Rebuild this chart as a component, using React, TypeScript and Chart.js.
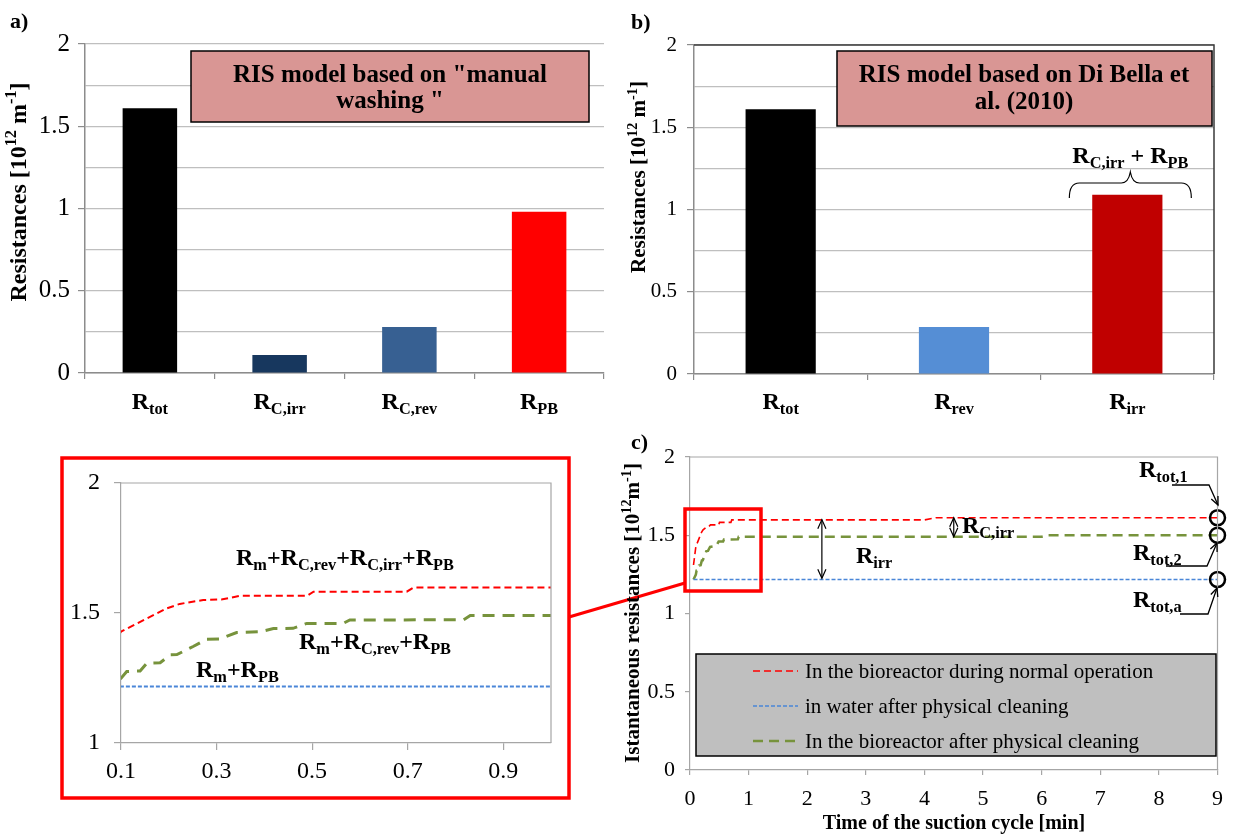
import React, { useEffect, useRef } from "react";
import { Chart, registerables } from "chart.js";
Chart.register(...registerables);

const W = 1234;
const H = 834;
const FONT = '"Liberation Serif", "Times New Roman", "DejaVu Serif", serif';
const AXIS = "#8C8C8C";
const GRID = "#BFBFBF";

// ---------- Panel a ----------
const catsA = ["R_{tot}", "R_{C,irr}", "R_{C,rev}", "R_{PB}"];
const valsA = [1.61, 0.11, 0.28, 0.98];
const colorsA = ["#000000", "#17375E", "#376092", "#FF0000"];
const boxTextA = ['RIS model based on "manual', 'washing "'];

// ---------- Panel b ----------
const catsB = ["R_{tot}", "R_{rev}", "R_{irr}"];
const valsB = [1.61, 0.285, 1.09];
const colorsB = ["#000000", "#558ED5", "#C00000"];
const boxTextB = ["RIS model based on Di Bella et", "al. (2010)"];
const braceLabelB = "R_{C,irr} + R_{PB}";
const titleAB = "Resistances [10^{12} m^{-1}]";

// ---------- Panel c / inset ----------
const redX = [0.06, 0.1, 0.196, 0.223, 0.272, 0.31, 0.349, 0.489, 0.503, 0.698, 0.712, 4.0, 4.2, 9.0];
const redY = [1.31, 1.428, 1.518, 1.535, 1.55, 1.552, 1.566, 1.566, 1.582, 1.582, 1.598, 1.598, 1.612, 1.612];
const greenX = [0.06, 0.1, 0.112, 0.14, 0.154, 0.182, 0.203, 0.217, 0.251, 0.279, 0.307, 0.342, 0.391, 0.419, 0.46, 0.489, 0.565, 0.579, 0.817, 0.831, 6.0, 6.1, 9.0];
const greenY = [1.217, 1.249, 1.275, 1.277, 1.307, 1.309, 1.339, 1.34, 1.371, 1.399, 1.4, 1.425, 1.428, 1.44, 1.441, 1.46, 1.46, 1.473, 1.474, 1.49, 1.49, 1.5, 1.5];
const blueX = [0.06, 9.0];
const blueY = [1.217, 1.217];
const legendLabels = [
  "In the bioreactor during normal operation",
  "in water after physical cleaning",
  "In the bioreactor after physical cleaning",
];
const cXTicks = [0, 1, 2, 3, 4, 5, 6, 7, 8, 9];
const cYTicks = [0, 0.5, 1, 1.5, 2];
const insetXTicks = [0.1, 0.3, 0.5, 0.7, 0.9];
const insetYTicks = [1, 1.5, 2];
const insetLabels = ["R_{m}+R_{C,rev}+R_{C,irr}+R_{PB}", "R_{m}+R_{C,rev}+R_{PB}", "R_{m}+R_{PB}"];
const endLabels = ["R_{tot,1}", "R_{tot,2}", "R_{tot,a}"];
const titleCY = "Istantaneous resistances [10^{12}m^{-1}]";
const titleCX = "Time of the suction cycle [min]";

// ---------- helpers ----------
type Seg = { t: string; k: number };
function parse(s: string): Seg[] {
  const out: Seg[] = [];
  const re = /([_^])\{([^}]*)\}/g;
  let last = 0;
  let m: RegExpExecArray | null;
  while ((m = re.exec(s))) {
    if (m.index > last) out.push({ t: s.slice(last, m.index), k: 0 });
    out.push({ t: m[2], k: m[1] === "_" ? 1 : 2 });
    last = re.lastIndex;
  }
  if (last < s.length) out.push({ t: s.slice(last), k: 0 });
  return out;
}
const fontStr = (size: number, bold: boolean) => `${bold ? "bold " : ""}${size}px ${FONT}`;
function drawRich(
  ctx: CanvasRenderingContext2D,
  s: string,
  x: number,
  y: number,
  size: number,
  o: { bold?: boolean; align?: string; color?: string } = {}
) {
  const segs = parse(s);
  const bold = o.bold === undefined ? true : o.bold;
  const SR = 0.68;
  let w = 0;
  for (const g of segs) {
    ctx.font = fontStr(g.k ? size * SR : size, bold);
    w += ctx.measureText(g.t).width;
  }
  let cx = o.align === "center" ? x - w / 2 : o.align === "right" ? x - w : x;
  ctx.save();
  ctx.fillStyle = o.color || "#000";
  ctx.textBaseline = "alphabetic";
  ctx.textAlign = "left";
  for (const g of segs) {
    ctx.font = fontStr(g.k ? size * SR : size, bold);
    const dy = g.k === 1 ? size * 0.22 : g.k === 2 ? -size * 0.4 : 0;
    ctx.fillText(g.t, cx, y + dy);
    cx += ctx.measureText(g.t).width;
  }
  ctx.restore();
}
function drawRot(ctx: CanvasRenderingContext2D, s: string, x: number, y: number, size: number) {
  ctx.save();
  ctx.translate(x, y);
  ctx.rotate(-Math.PI / 2);
  drawRich(ctx, s, 0, 0, size, { align: "center" });
  ctx.restore();
}
function head(ctx: CanvasRenderingContext2D, x: number, y: number, ang: number, len = 9, spr = 0.42) {
  ctx.beginPath();
  ctx.moveTo(x - len * Math.cos(ang - spr), y - len * Math.sin(ang - spr));
  ctx.lineTo(x, y);
  ctx.lineTo(x - len * Math.cos(ang + spr), y - len * Math.sin(ang + spr));
  ctx.stroke();
}
function dblArrow(ctx: CanvasRenderingContext2D, x: number, y1: number, y2: number) {
  ctx.save();
  ctx.strokeStyle = "#000";
  ctx.lineWidth = 1.2;
  ctx.beginPath();
  ctx.moveTo(x, y1);
  ctx.lineTo(x, y2);
  ctx.stroke();
  head(ctx, x, y1, -Math.PI / 2, 10);
  head(ctx, x, y2, Math.PI / 2, 10);
  ctx.restore();
}
function leader(ctx: CanvasRenderingContext2D, pts: number[][]) {
  ctx.save();
  ctx.strokeStyle = "#000";
  ctx.lineWidth = 1.3;
  ctx.beginPath();
  ctx.moveTo(pts[0][0], pts[0][1]);
  for (let i = 1; i < pts.length; i++) ctx.lineTo(pts[i][0], pts[i][1]);
  ctx.stroke();
  const a = pts[pts.length - 2];
  const b = pts[pts.length - 1];
  head(ctx, b[0], b[1], Math.atan2(b[1] - a[1], b[0] - a[0]), 9);
  ctx.restore();
}
const isMajor = (v: number) => Math.abs(v * 2 - Math.round(v * 2)) < 1e-6;
const fmt = (v: number) => String(Math.round(v * 1000) / 1000);
const xy = (xs: number[], ys: number[]) => xs.map((x, i) => ({ x, y: ys[i] }));
function pad(L: number, T: number, R: number, B: number, yW: number, xH: number) {
  return { left: L - yW, top: T, right: W - R, bottom: H - B - xH };
}
const baseOpts = (p: any) => ({
  responsive: false,
  maintainAspectRatio: false,
  animation: false as const,
  devicePixelRatio: 1,
  events: [] as any[],
  layout: { padding: p },
  plugins: { legend: { display: false }, tooltip: { enabled: false } },
});

// ---------- bar chart configs ----------
function barCfg(
  labels: string[],
  vals: number[],
  colors: string[],
  area: number[],
  barPct: number,
  tickSize: number,
  tickPad: number,
  plugin: any
) {
  const [L, T, R, B] = area;
  return {
    type: "bar",
    data: {
      labels,
      datasets: [
        { data: vals, backgroundColor: colors, borderWidth: 0, barPercentage: barPct, categoryPercentage: 1 },
      ],
    },
    options: {
      ...baseOpts(pad(L, T, R, B, 60, 40)),
      scales: {
        x: {
          type: "category",
          offset: true,
          grid: { offset: true, drawOnChartArea: false, drawTicks: true, tickLength: 6, color: AXIS, lineWidth: 1.2 },
          border: { display: true, color: AXIS, width: 1.5 },
          ticks: { display: false },
          afterFit: (s: any) => {
            s.height = 40;
          },
        },
        y: {
          min: 0,
          max: 2,
          ticks: {
            stepSize: 0.25,
            padding: tickPad,
            color: "#000",
            font: { family: FONT, size: tickSize },
            callback: (v: number) => (isMajor(v) ? fmt(v) : ""),
          },
          grid: {
            color: GRID,
            lineWidth: 1.2,
            tickLength: 7,
            tickColor: (c: any) => (c.tick && isMajor(c.tick.value) ? AXIS : "rgba(0,0,0,0)"),
          },
          border: { color: AXIS, width: 1.5 },
          afterFit: (s: any) => {
            s.width = 60;
          },
        },
      },
    },
    plugins: [plugin],
  };
}

const plugA = {
  id: "panelA",
  afterDraw(chart: any) {
    const ctx = chart.ctx as CanvasRenderingContext2D;
    const xs = chart.scales.x;
    catsA.forEach((c, i) => drawRich(ctx, c, xs.getPixelForValue(i), 409, 24, { align: "center" }));
    ctx.save();
    ctx.fillStyle = "#D99694";
    ctx.fillRect(191, 51, 398, 71);
    ctx.strokeStyle = "#000";
    ctx.lineWidth = 1.5;
    ctx.strokeRect(191, 51, 398, 71);
    ctx.restore();
    drawRich(ctx, boxTextA[0], 390, 82, 25, { align: "center" });
    drawRich(ctx, boxTextA[1], 390, 108, 25, { align: "center" });
    drawRot(ctx, titleAB, 26, 192, 24);
    drawRich(ctx, "a)", 10, 28, 22);
  },
};

const plugB = {
  id: "panelB",
  afterDraw(chart: any) {
    const ctx = chart.ctx as CanvasRenderingContext2D;
    const xs = chart.scales.x;
    const a = chart.chartArea;
    ctx.save();
    ctx.strokeStyle = "#3A3A3A";
    ctx.lineWidth = 1.5;
    ctx.beginPath();
    ctx.moveTo(a.left, a.top);
    ctx.lineTo(a.right, a.top);
    ctx.lineTo(a.right, a.bottom);
    ctx.stroke();
    ctx.restore();
    catsB.forEach((c, i) => drawRich(ctx, c, xs.getPixelForValue(i), 409, 24, { align: "center" }));
    ctx.save();
    ctx.fillStyle = "#D99694";
    ctx.fillRect(837, 51, 375, 75);
    ctx.strokeStyle = "#000";
    ctx.lineWidth = 1.5;
    ctx.strokeRect(837, 51, 375, 75);
    ctx.restore();
    drawRich(ctx, boxTextB[0], 1024, 82, 25, { align: "center" });
    drawRich(ctx, boxTextB[1], 1024, 109, 25, { align: "center" });
    // brace over R_irr
    const cx = xs.getPixelForValue(2) + 3;
    const hw = 61;
    ctx.save();
    ctx.strokeStyle = "#000";
    ctx.lineWidth = 1.2;
    ctx.beginPath();
    ctx.moveTo(cx - hw, 198);
    ctx.quadraticCurveTo(cx - hw, 183, cx - hw + 10, 183);
    ctx.lineTo(cx - 9, 183);
    ctx.quadraticCurveTo(cx - 2, 183, cx, 172);
    ctx.quadraticCurveTo(cx + 2, 183, cx + 9, 183);
    ctx.lineTo(cx + hw - 10, 183);
    ctx.quadraticCurveTo(cx + hw, 183, cx + hw, 198);
    ctx.stroke();
    ctx.restore();
    drawRich(ctx, braceLabelB, cx, 163, 24, { align: "center" });
    drawRot(ctx, titleAB, 645, 177, 21);
    drawRich(ctx, "b)", 631, 29, 22);
  },
};

// ---------- line chart configs ----------
function lineSets(wide: boolean) {
  return [
    {
      data: xy(redX, redY),
      borderColor: "#FF0000",
      borderWidth: wide ? 1.6 : 2,
      borderDash: [7, 4],
      pointRadius: 0,
      tension: 0,
      fill: false,
    },
    {
      data: xy(blueX, blueY),
      borderColor: "#4A86D8",
      borderWidth: wide ? 1.5 : 2,
      borderDash: [4, 2],
      pointRadius: 0,
      tension: 0,
      fill: false,
    },
    {
      data: xy(greenX, greenY),
      borderColor: "#77933C",
      borderWidth: wide ? 2.5 : 3,
      borderDash: wide ? [10, 6] : [12, 8],
      pointRadius: 0,
      tension: 0,
      fill: false,
    },
  ];
}
function boxTopRight(ctx: CanvasRenderingContext2D, a: any, color: string) {
  ctx.save();
  ctx.strokeStyle = color;
  ctx.lineWidth = 1.2;
  ctx.beginPath();
  ctx.moveTo(a.left, a.top);
  ctx.lineTo(a.right, a.top);
  ctx.lineTo(a.right, a.bottom);
  ctx.stroke();
  ctx.restore();
}

const plugInset = {
  id: "inset",
  afterDraw(chart: any) {
    const ctx = chart.ctx as CanvasRenderingContext2D;
    boxTopRight(ctx, chart.chartArea, "#A6A6A6");
    ctx.save();
    ctx.strokeStyle = "#FF0000";
    ctx.lineWidth = 3.5;
    ctx.strokeRect(62, 458, 507, 340);
    ctx.restore();
    drawRich(ctx, insetLabels[0], 236, 565, 24);
    drawRich(ctx, insetLabels[1], 299, 649, 24);
    drawRich(ctx, insetLabels[2], 196, 677, 24);
  },
};

const plugC = {
  id: "panelC",
  afterDraw(chart: any) {
    const ctx = chart.ctx as CanvasRenderingContext2D;
    const xs = chart.scales.x;
    const ys = chart.scales.y;
    boxTopRight(ctx, chart.chartArea, "#A6A6A6");
    // legend
    ctx.save();
    ctx.fillStyle = "#BFBFBF";
    ctx.fillRect(696, 654, 520, 102);
    ctx.strokeStyle = "#000";
    ctx.lineWidth = 1.5;
    ctx.strokeRect(696, 654, 520, 102);
    ctx.restore();
    const rows = [671, 706, 741];
    chart.data.datasets.slice(0, 3).forEach((ds: any, i: number) => {
      ctx.save();
      ctx.strokeStyle = ds.borderColor;
      ctx.lineWidth = ds.borderWidth;
      ctx.setLineDash(ds.borderDash);
      ctx.beginPath();
      ctx.moveTo(753, rows[i]);
      ctx.lineTo(798, rows[i]);
      ctx.stroke();
      ctx.restore();
      drawRich(ctx, legendLabels[i], 805, rows[i] + 7, 21, { bold: false });
    });
    // arrows
    const xIrr = xs.getPixelForValue(2.25);
    dblArrow(ctx, xIrr, ys.getPixelForValue(1.6), ys.getPixelForValue(1.225));
    const xC = xs.getPixelForValue(4.5);
    dblArrow(ctx, xC, ys.getPixelForValue(1.612), ys.getPixelForValue(1.49));
    drawRich(ctx, "R_{irr}", 856, 563, 24);
    drawRich(ctx, "R_{C,irr}", 962, 533, 24);
    // end labels with leaders
    drawRich(ctx, endLabels[0], 1139, 477, 24);
    drawRich(ctx, endLabels[1], 1133, 560, 24);
    drawRich(ctx, endLabels[2], 1133, 607, 24);
    leader(ctx, [[1172, 485], [1209, 485], [1218, 505]]);
    leader(ctx, [[1166, 566], [1207, 566], [1217, 543]]);
    leader(ctx, [[1180, 614], [1208, 614], [1217, 588]]);
    // zoom rectangle + connector
    ctx.save();
    ctx.strokeStyle = "#FF0000";
    ctx.lineWidth = 3.5;
    ctx.strokeRect(685, 509, 76, 82);
    ctx.lineWidth = 3;
    ctx.beginPath();
    ctx.moveTo(569, 617);
    ctx.lineTo(685, 583);
    ctx.stroke();
    ctx.restore();
    drawRot(ctx, titleCY, 639, 613, 21);
    drawRich(ctx, titleCX, 954, 829, 20, { align: "center" });
    drawRich(ctx, "c)", 631, 449, 22);
  },
};

function lineCfg(
  area: number[],
  xr: number[],
  yr: number[],
  xt: number[],
  yt: number[],
  tickSize: number,
  tl: number,
  xpad: number,
  ypad: number,
  wide: boolean,
  plugin: any
) {
  const [L, T, R, B] = area;
  const sets: any[] = lineSets(wide);
  if (wide) {
    sets.push({
      data: [
        { x: redX[redX.length - 1], y: redY[redY.length - 1] },
        { x: greenX[greenX.length - 1], y: greenY[greenY.length - 1] },
        { x: blueX[blueX.length - 1], y: blueY[blueY.length - 1] },
      ],
      showLine: false,
      pointRadius: 7.5,
      pointBorderWidth: 2.5,
      pointBorderColor: "#000",
      pointBackgroundColor: "rgba(0,0,0,0)",
      clip: false,
      order: -1,
    });
  }
  const axisCommon = (ticks: number[], size: number, padding: number) => ({
    type: "linear",
    grid: { drawOnChartArea: false, drawTicks: true, tickLength: tl, color: "#A6A6A6", lineWidth: 1.2 },
    border: { color: "#A6A6A6", width: 1.2 },
    ticks: { color: "#000", font: { family: FONT, size }, padding, callback: (v: number) => fmt(v) },
    afterBuildTicks: (s: any) => {
      s.ticks = ticks.map((v) => ({ value: v }));
    },
  });
  return {
    type: "line",
    data: { datasets: sets },
    options: {
      ...baseOpts(pad(L, T, R, B, 60, 40)),
      scales: {
        x: {
          ...axisCommon(xt, tickSize, xpad),
          min: xr[0],
          max: xr[1],
          afterFit: (s: any) => {
            s.height = 40;
          },
        },
        y: {
          ...axisCommon(yt, tickSize, ypad),
          min: yr[0],
          max: yr[1],
          afterFit: (s: any) => {
            s.width = 60;
          },
        },
      },
    },
    plugins: [plugin],
  };
}

export default function App() {
  const r0 = useRef<HTMLCanvasElement>(null);
  const r1 = useRef<HTMLCanvasElement>(null);
  const r2 = useRef<HTMLCanvasElement>(null);
  const r3 = useRef<HTMLCanvasElement>(null);
  useEffect(() => {
    const charts: Chart[] = [];
    charts.push(new Chart(r0.current!, barCfg(catsA, valsA, colorsA, [85, 44, 604, 373], 0.42, 25, 8, plugA) as any));
    charts.push(new Chart(r1.current!, barCfg(catsB, valsB, colorsB, [694, 45, 1214, 374], 0.405, 21, 10, plugB) as any));
    charts.push(
      new Chart(
        r2.current!,
        lineCfg([121, 483, 551, 743], [0.1, 1.0], [1, 2], insetXTicks, insetYTicks, 24, 7, 7, 14, false, plugInset) as any
      )
    );
    charts.push(
      new Chart(
        r3.current!,
        lineCfg([690, 457, 1218, 770], [0, 9], [0, 2], cXTicks, cYTicks, 22, 5, 11, 10, true, plugC) as any
      )
    );
    return () => charts.forEach((c) => c.destroy());
  }, []);
  const st: React.CSSProperties = { position: "absolute", left: 0, top: 0 };
  return (
    <div style={{ position: "fixed", left: 0, top: 0, width: W, height: H, background: "#fff", overflow: "hidden" }}>
      <canvas ref={r0} width={W} height={H} style={st} />
      <canvas ref={r1} width={W} height={H} style={st} />
      <canvas ref={r2} width={W} height={H} style={st} />
      <canvas ref={r3} width={W} height={H} style={st} />
    </div>
  );
}
